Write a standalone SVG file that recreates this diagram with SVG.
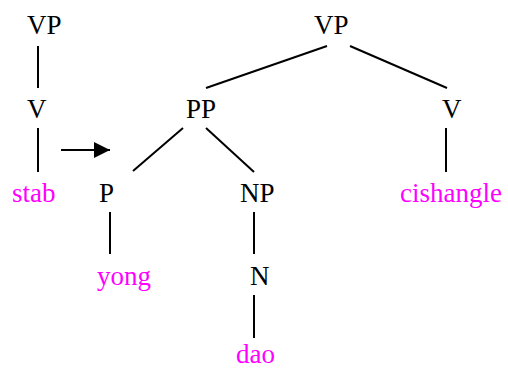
<svg xmlns="http://www.w3.org/2000/svg" width="508" height="369" viewBox="0 0 508 369">
<style>
text{font-family:"Liberation Serif","Times New Roman",serif;font-size:27px;fill:#000}
.w{fill:#ff00ff}
.c line{stroke:#000;stroke-width:2}
</style>
<defs>
<marker id="ah" viewBox="0 0 16 16" refX="16" refY="8" markerWidth="16" markerHeight="16" markerUnits="userSpaceOnUse" orient="auto">
<path d="M0,0 L16,8 L0,16 Z" fill="#000"/>
</marker>
</defs>
<rect width="508" height="369" fill="#fff"/>
<g id="n-vp1"><text x="27" y="34">VP</text></g>
<g id="n-v1"><text x="27" y="118">V</text></g>
<g id="n-stab"><text class="w" x="12" y="202">stab</text></g>
<g id="n-vp2"><text x="314" y="34">VP</text></g>
<g id="n-pp"><text x="186" y="118">PP</text></g>
<g id="n-v2"><text x="442" y="118">V</text></g>
<g id="n-p"><text x="99" y="202">P</text></g>
<g id="n-np"><text x="240" y="202">NP</text></g>
<g id="n-cishangle"><text class="w" x="400" y="202">cishangle</text></g>
<g id="n-yong"><text class="w" x="97" y="285">yong</text></g>
<g id="n-n"><text x="250" y="285">N</text></g>
<g id="n-dao"><text class="w" x="236" y="363">dao</text></g>
<g class="c" id="connectors">
<line x1="38" y1="46" x2="38" y2="88"/>
<line x1="38" y1="128" x2="38" y2="172"/>
<line x1="61" y1="150" x2="110" y2="150" marker-end="url(#ah)"/>
<line x1="327" y1="46" x2="206" y2="88"/>
<line x1="350" y1="46" x2="447" y2="88"/>
<line x1="183" y1="128" x2="133" y2="171"/>
<line x1="206" y1="128" x2="254" y2="172"/>
<line x1="446" y1="128" x2="446" y2="172"/>
<line x1="110" y1="212" x2="110" y2="254"/>
<line x1="254" y1="212" x2="254" y2="254"/>
<line x1="254" y1="295" x2="254" y2="338"/>
</g>
</svg>
